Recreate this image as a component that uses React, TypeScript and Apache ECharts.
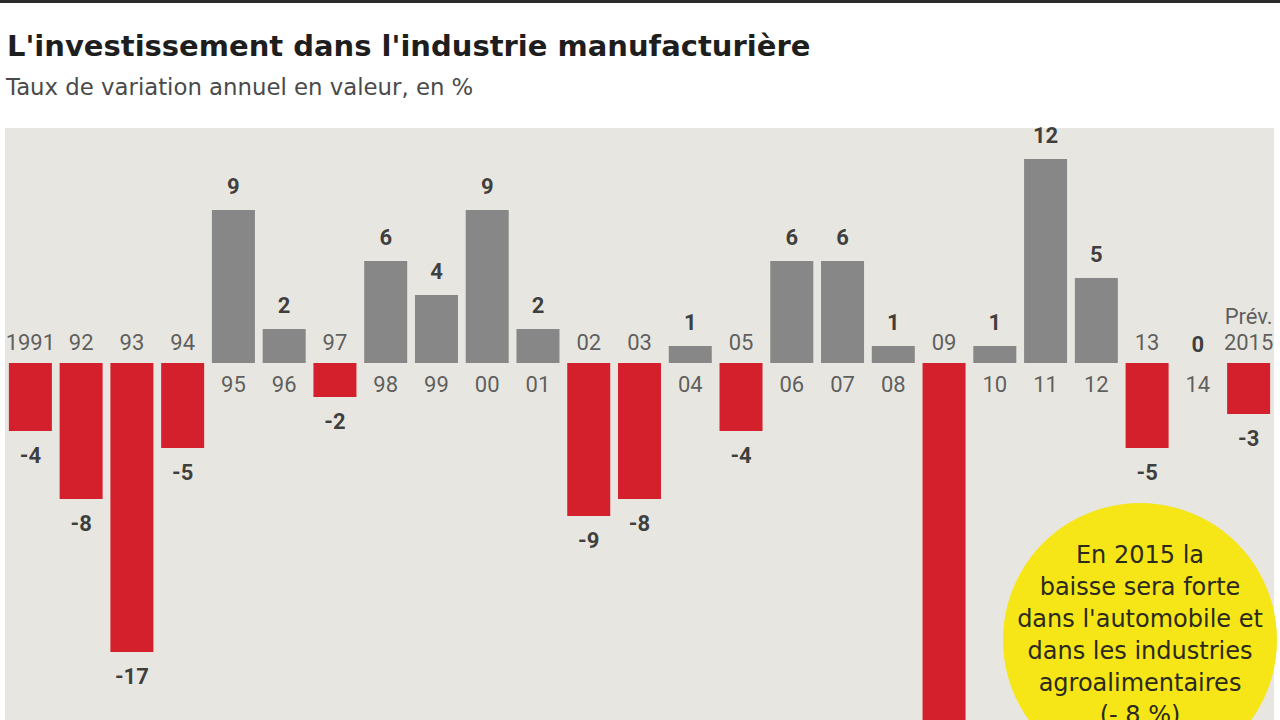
import React, { useEffect, useRef } from "react";
import * as echarts from "echarts";

const years = ["1991", "92", "93", "94", "95", "96", "97", "98", "99", "00", "01", "02", "03", "04", "05", "06", "07", "08", "09", "10", "11", "12", "13", "14", "Prév.\n2015"];
const values = [-4, -8, -17, -5, 9, 2, -2, 6, 4, 9, 2, -9, -8, 1, -4, 6, 6, 1, -25, 1, 12, 5, -5, 0, -3];
const noteLines = ["En 2015 la", "baisse sera forte", "dans l'automobile et", "dans les industries", "agroalimentaires", "(- 8 %)"];
const title = "L'investissement dans l'industrie manufacturière";
const subtitle = "Taux de variation annuel en valeur, en %";

const RED = "#d4202c";
const GRAY = "#878787";
const FONT = "Roboto, 'Noto Sans', sans-serif";
const WIDE = "'DejaVu Sans', 'Noto Sans', sans-serif";

export default function App() {
  const ref = useRef<HTMLDivElement>(null);
  useEffect(() => {
    if (!ref.current) return;
    const chart = echarts.init(ref.current, null, { renderer: "svg" });
    const option = {
      animation: false,
      backgroundColor: "#ffffff",
      grid: {
        left: 5,
        right: 6,
        top: 128,
        bottom: 0,
        show: true,
        backgroundColor: "#e7e6e0",
        borderWidth: 0,
        containLabel: false,
      },
      xAxis: {
        type: "category",
        data: years,
        axisLine: { show: false },
        axisTick: { show: false },
        axisLabel: { show: false },
        splitLine: { show: false },
      },
      yAxis: {
        type: "value",
        min: -21,
        max: 235 / 17,
        show: false,
        splitLine: { show: false },
      },
      graphic: [
        { type: "rect", shape: { x: 0, y: 0, width: 1280, height: 3 }, style: { fill: "#2b2b2b" } },
        {
          type: "text",
          x: 7,
          y: 46,
          style: { text: title, font: `bold 29px ${WIDE}`, fill: "#1e1e1e", textVerticalAlign: "middle" },
        },
        {
          type: "text",
          x: 6,
          y: 87,
          style: { text: subtitle, font: `22.8px ${WIDE}`, fill: "#4a4a4a", textVerticalAlign: "middle" },
        },
        {
          type: "circle",
          shape: { cx: 1140, cy: 640, r: 137 },
          style: { fill: "#f6e617" },
          z: 10,
        },
        {
          type: "text",
          x: 1140,
          y: 539,
          z: 11,
          style: {
            text: noteLines.join("\n"),
            font: `24px ${WIDE}`,
            lineHeight: 32,
            fill: "#2a2a1e",
            textAlign: "center",
          },
        },
      ],
      series: [
        {
          type: "bar",
          barWidth: 43,
          data: values.map((v) => ({
            value: v,
            itemStyle: { color: v < 0 ? RED : GRAY },
          })),
          silent: true,
        },
        {
          type: "scatter",
          symbolSize: 0,
          silent: true,
          data: values.map((v, i) => ({
            value: [i, 0],
            label: { position: v >= 0 ? "bottom" : "top" },
          })),
          label: {
            show: true,
            distance: 8,
            formatter: (p: any) => years[p.dataIndex],
            fontFamily: FONT,
            fontSize: 22,
            fontWeight: "normal",
            lineHeight: 26,
            color: "#3a3a3a",
          },
        },
        {
          type: "scatter",
          symbolSize: 0,
          silent: true,
          data: values.map((v, i) => ({
            value: [i, v],
            label: { position: v >= 0 ? "top" : "bottom", distance: v === 0 ? 8 : 13 },
          })),
          label: {
            show: true,
            formatter: (p: any) => String(values[p.dataIndex]),
            fontFamily: FONT,
            fontSize: 22,
            fontWeight: "bold",
            color: "#111111",
          },
        },
      ],
    };
    chart.setOption(option as any);
    return () => chart.dispose();
  }, []);
  return (
    <div
      ref={ref}
      style={{ position: "fixed", left: 0, top: 0, width: 1280, height: 720 }}
    />
  );
}
